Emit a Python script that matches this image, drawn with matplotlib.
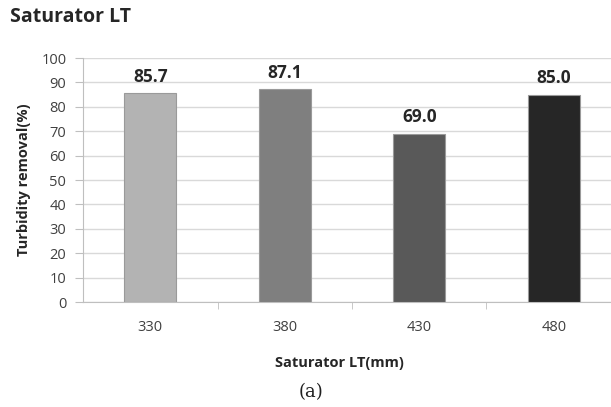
import matplotlib
matplotlib.use("Agg")
import matplotlib.pyplot as plt
import numpy as np

categories = ["330", "380", "430", "480"]
removal = [85.7, 87.1, 69.0, 85.0]
bar_colors = ["#b3b3b3", "#7f7f7f", "#595959", "#262626"]
y_ticks = list(range(0, 101, 10))

plt.rcParams['font.family'] = ['Open Sans', 'DejaVu Sans']

fig = plt.figure(figsize=(6.11, 4.07), dpi=100)
ax = fig.add_axes([83 / 611, 1 - 302 / 407, 538 / 611, 244 / 407])

x = np.arange(len(categories))
bars = ax.bar(x, removal, width=0.39, color=bar_colors, edgecolor="#9a9a9a",
              linewidth=0.8, zorder=3)
for b, v in zip(bars, removal):
    ax.text(b.get_x() + b.get_width() / 2, v + 3.0, f"{v:.1f}", ha="center",
            va="bottom", fontsize=12.5, fontweight="bold", color="#262626")

ax.set_xlim(-0.5, len(categories) - 0.5)
ax.set_ylim(0, 100)
ax.set_yticks(y_ticks)
ax.set_xticks(x)
ax.set_xticklabels(categories)
ax.set_xticks(np.arange(0.5, len(categories) - 0.5, 1), minor=True)
ax.tick_params(axis="x", which="major", length=0, pad=13, labelsize=10.5, labelcolor="#404040")
ax.tick_params(axis="x", which="minor", length=5, color="#bfbfbf", direction="out")
ax.tick_params(axis="y", length=6, color="#bfbfbf", labelsize=10.5, labelcolor="#404040", pad=6)
ax.grid(axis="y", color="#d9d9d9", linewidth=1, zorder=0)
for s in ["top", "right"]:
    ax.spines[s].set_visible(False)
ax.spines["left"].set_color("#bfbfbf")
ax.spines["bottom"].set_color("#bfbfbf")

fig.text(10 / 611, 1 - 17 / 407, "Saturator LT", fontsize=14, fontweight="bold",
         ha="left", va="center", color="#262626")
fig.text(24 / 611, 1 - 180 / 407, "Turbidity removal(%)", rotation=90, fontsize=10.5,
         fontweight="bold", ha="center", va="center", color="#262626")
fig.text(339 / 611, 1 - 363 / 407, "Saturator LT(mm)", fontsize=10.5, fontweight="bold",
         ha="center", va="center", color="#262626")
fig.text(311 / 611, 1 - 392 / 407, "(a)", fontsize=13, family="DejaVu Serif",
         ha="center", va="center", color="#202020")

fig.savefig("out.png", dpi=100)
